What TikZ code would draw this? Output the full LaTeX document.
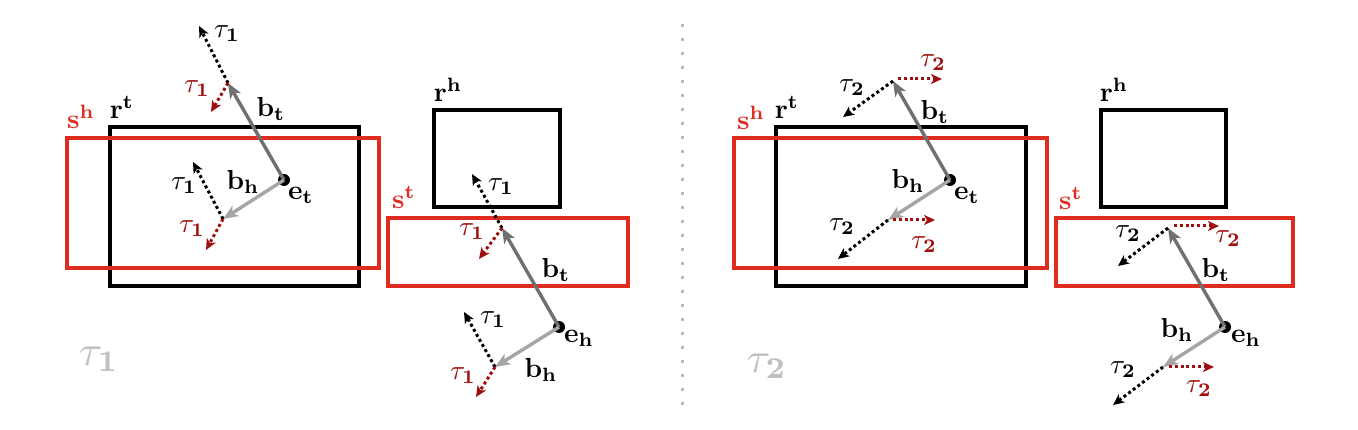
\documentclass[tikz,border=0pt]{standalone}
\usetikzlibrary{arrows.meta}
\definecolor{boxred}{RGB}{222,45,32}
\definecolor{tred}{RGB}{160,15,15}
\definecolor{bdark}{RGB}{112,112,112}
\definecolor{blight}{RGB}{165,165,165}
\definecolor{biglbl}{RGB}{192,192,192}
\definecolor{sepcol}{RGB}{185,185,185}
\begin{document}
\begin{tikzpicture}[x=1pt,y=-1pt,
  lbl/.style={inner sep=0pt,scale=2.75},
  biglabel/.style={inner sep=0pt,text=biglbl,scale=4.3},
  blackbox/.style={line width=3.4pt,draw=black},
  redbox/.style={line width=3.4pt,draw=boxred},
  bvec/.style={line width=3.4pt,-{Stealth[length=15pt,width=12pt,inset=4pt]}},
  tdot/.style={line width=3pt,dash pattern=on 3pt off 2.8pt,-{Stealth[length=11pt,width=10pt,inset=3pt]}},
  edot/.style={circle,fill=black,inner sep=0pt,minimum size=12pt},
  seppat/.style={line width=3pt,draw=sepcol,dash pattern=on 3pt off 11pt}
]
\useasboundingbox[fill=white] (0,0) rectangle (1358,430);

% separator
\coordinate (sepA) at (682,24);
\coordinate (sepB) at (682,412);
\draw[seppat] (sepA) -- (sepB);

% ================= LEFT PANEL =================
\coordinate (rtA) at (110,127); \coordinate (rtB) at (359,286);
\coordinate (shA) at (67,138);  \coordinate (shB) at (379,268);
\coordinate (rhA) at (434,110); \coordinate (rhB) at (560,207);
\coordinate (stA) at (388,218); \coordinate (stB) at (628,286);
\draw[blackbox] (rtA) rectangle (rtB);
\draw[redbox] (shA) rectangle (shB);
\draw[blackbox] (rhA) rectangle (rhB);
\draw[redbox] (stA) rectangle (stB);

\node[edot] (Et1) at (284,180) {};
\node[edot] (Eh1) at (559,327) {};
\coordinate (Tt1) at (228,83);
\coordinate (Th1) at (223,219);
\coordinate (Tt2) at (502,228);
\coordinate (Th2) at (495,367);
\coordinate (Tt1k) at (199,26);  \coordinate (Tt1r) at (211,112);
\coordinate (Th1k) at (193,162); \coordinate (Th1r) at (206,250);
\coordinate (Tt2k) at (472,174); \coordinate (Tt2r) at (479,259);
\coordinate (Th2k) at (464,312); \coordinate (Th2r) at (476,397);

\draw[bvec,bdark] (Et1.center) -- (Tt1);
\draw[bvec,blight] (Et1.center) -- (Th1);
\draw[bvec,bdark] (Eh1.center) -- (Tt2);
\draw[bvec,blight] (Eh1.center) -- (Th2);
\draw[tdot,black] (Tt1) -- (Tt1k);
\draw[tdot,tred] (Tt1) -- (Tt1r);
\draw[tdot,black] (Th1) -- (Th1k);
\draw[tdot,tred] (Th1) -- (Th1r);
\draw[tdot,black] (Tt2) -- (Tt2k);
\draw[tdot,tred] (Tt2) -- (Tt2r);
\draw[tdot,black] (Th2) -- (Th2k);
\draw[tdot,tred] (Th2) -- (Th2r);

\node[lbl,text=boxred] (lsh) at (81,117) {$\mathbf{s}^{\mathbf{h}}$};
\node[lbl] (lrt) at (122,107) {$\mathbf{r}^{\mathbf{t}}$};
\node[lbl] (lrh) at (448,90) {$\mathbf{r}^{\mathbf{h}}$};
\node[lbl,text=boxred] (lst) at (404,197) {$\mathbf{s}^{\mathbf{t}}$};
\node[lbl] (lbt1) at (271,109) {$\mathbf{b}_{\mathbf{t}}$};
\node[lbl] (lbh1) at (243,182) {$\mathbf{b}_{\mathbf{h}}$};
\node[lbl] (let1) at (301,195) {$\mathbf{e}_{\mathbf{t}}$};
\node[lbl] (lbt2) at (556,270) {$\mathbf{b}_{\mathbf{t}}$};
\node[lbl] (lbh2) at (541,370) {$\mathbf{b}_{\mathbf{h}}$};
\node[lbl] (leh1) at (579,338) {$\mathbf{e}_{\mathbf{h}}$};
\node[lbl] (la1) at (227,34) {$\tau_{\mathbf{1}}$};
\node[lbl,text=tred] (la2) at (197,89) {$\tau_{\mathbf{1}}$};
\node[lbl] (la3) at (184,186) {$\tau_{\mathbf{1}}$};
\node[lbl,text=tred] (la4) at (192,229) {$\tau_{\mathbf{1}}$};
\node[lbl] (la5) at (501,187) {$\tau_{\mathbf{1}}$};
\node[lbl,text=tred] (la6) at (472,232) {$\tau_{\mathbf{1}}$};
\node[lbl] (la7) at (493,320) {$\tau_{\mathbf{1}}$};
\node[lbl,text=tred] (la8) at (463,376) {$\tau_{\mathbf{1}}$};
\node[biglabel] (big1) at (99,359) {$\tau_{\mathbf{1}}$};

% ================= RIGHT PANEL =================
\coordinate (RrtA) at (776,127); \coordinate (RrtB) at (1026,286);
\coordinate (RshA) at (734,138); \coordinate (RshB) at (1047,268);
\coordinate (RrhA) at (1101,110); \coordinate (RrhB) at (1226,207);
\coordinate (RstA) at (1056,218); \coordinate (RstB) at (1293,286);
\draw[blackbox] (RrtA) rectangle (RrtB);
\draw[redbox] (RshA) rectangle (RshB);
\draw[blackbox] (RrhA) rectangle (RrhB);
\draw[redbox] (RstA) rectangle (RstB);

\node[edot] (Et2) at (950,180) {};
\node[edot] (Eh2) at (1225,327) {};
\coordinate (Ut1) at (893,81);
\coordinate (Uh1) at (888,220);
\coordinate (Ut2) at (1168,228);
\coordinate (Uh2) at (1163,367);
\coordinate (Ut1k) at (843,117);  \coordinate (Ut1s) at (898,79);  \coordinate (Ut1r) at (942,79);
\coordinate (Uh1k) at (838,259);  \coordinate (Uh1s) at (893,220); \coordinate (Uh1r) at (935,220);
\coordinate (Ut2k) at (1118,266); \coordinate (Ut2s) at (1174,226); \coordinate (Ut2r) at (1219,226);
\coordinate (Uh2k) at (1113,405); \coordinate (Uh2s) at (1169,367); \coordinate (Uh2r) at (1214,367);

\draw[bvec,bdark] (Et2.center) -- (Ut1);
\draw[bvec,blight] (Et2.center) -- (Uh1);
\draw[bvec,bdark] (Eh2.center) -- (Ut2);
\draw[bvec,blight] (Eh2.center) -- (Uh2);
\draw[tdot,black] (Ut1) -- (Ut1k);
\draw[tdot,tred] (Ut1s) -- (Ut1r);
\draw[tdot,black] (Uh1) -- (Uh1k);
\draw[tdot,tred] (Uh1s) -- (Uh1r);
\draw[tdot,black] (Ut2) -- (Ut2k);
\draw[tdot,tred] (Ut2s) -- (Ut2r);
\draw[tdot,black] (Uh2) -- (Uh2k);
\draw[tdot,tred] (Uh2s) -- (Uh2r);

\node[lbl,text=boxred] (rsh) at (751,118) {$\mathbf{s}^{\mathbf{h}}$};
\node[lbl] (rrt) at (787,107) {$\mathbf{r}^{\mathbf{t}}$};
\node[lbl] (rrh) at (1114,90) {$\mathbf{r}^{\mathbf{h}}$};
\node[lbl,text=boxred] (rst) at (1071,198) {$\mathbf{s}^{\mathbf{t}}$};
\node[lbl] (rbt1) at (935,112) {$\mathbf{b}_{\mathbf{t}}$};
\node[lbl] (rbh1) at (908,181) {$\mathbf{b}_{\mathbf{h}}$};
\node[lbl] (ret1) at (967,195) {$\mathbf{e}_{\mathbf{t}}$};
\node[lbl] (rbt2) at (1216,270) {$\mathbf{b}_{\mathbf{t}}$};
\node[lbl] (rbh2) at (1177,330) {$\mathbf{b}_{\mathbf{h}}$};
\node[lbl] (reh1) at (1246,338) {$\mathbf{e}_{\mathbf{h}}$};
\node[lbl,text=tred] (rb1) at (933,63) {$\tau_{\mathbf{2}}$};
\node[lbl] (rb2) at (852,88) {$\tau_{\mathbf{2}}$};
\node[lbl] (rb3) at (842,227) {$\tau_{\mathbf{2}}$};
\node[lbl,text=tred] (rb4) at (924,245) {$\tau_{\mathbf{2}}$};
\node[lbl] (rb5) at (1128,234) {$\tau_{\mathbf{2}}$};
\node[lbl,text=tred] (rb6) at (1228,239) {$\tau_{\mathbf{2}}$};
\node[lbl] (rb7) at (1123,370) {$\tau_{\mathbf{2}}$};
\node[lbl,text=tred] (rb8) at (1199,389) {$\tau_{\mathbf{2}}$};
\node[biglabel] (big2) at (767,366) {$\tau_{\mathbf{2}}$};
\end{tikzpicture}
\end{document}
